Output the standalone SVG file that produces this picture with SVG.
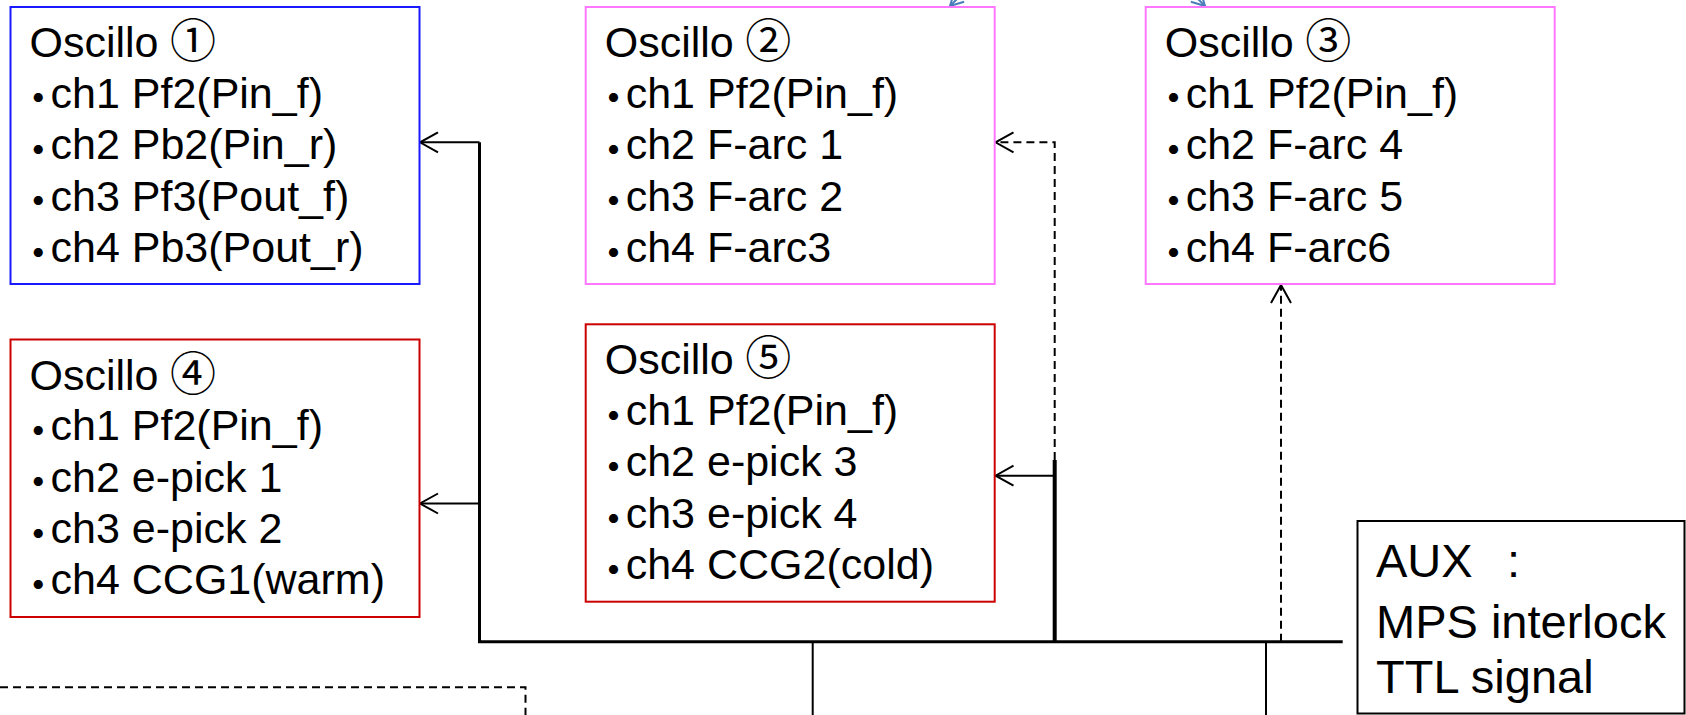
<svg xmlns="http://www.w3.org/2000/svg" width="1686" height="715" viewBox="0 0 1686 715">
<style>
  .t { font-family: "Liberation Sans", "Noto Sans CJK JP", sans-serif; font-size: 43px; fill: #000; }
  .n { font-size: 46px; }
  .aux { font-family: "Liberation Sans", "Noto Sans CJK JP", sans-serif; font-size: 47px; fill: #000; }
  .box { fill: #fff; stroke-width: 2; }
  .blue { stroke: #1a1aff; }
  .pink { stroke: #ff77ff; }
  .red { stroke: #cc0000; }
  .blk { stroke: #000; }
  .thick { stroke: #000; stroke-width: 3; fill: none; }
  .thin { stroke: #000; stroke-width: 2; fill: none; }
  .dash { stroke: #000; stroke-width: 2; fill: none; stroke-dasharray: 8 5; }
  .barrow { stroke: #4a7ebb; stroke-width: 2; fill: none; }
</style>
<defs>
  <marker id="open" viewBox="-20 -12 22 24" markerWidth="22" markerHeight="24" refX="0" refY="0" orient="auto" markerUnits="userSpaceOnUse">
    <path d="M-18,-10 L0,0 L-18,10" fill="none" stroke="#000" stroke-width="2"/>
  </marker>
  <marker id="openb" viewBox="-16 -10 18 20" markerWidth="18" markerHeight="20" refX="0" refY="0" orient="auto" markerUnits="userSpaceOnUse">
    <path d="M-13,-7 L0,0 L-13,7" fill="none" stroke="#4a7ebb" stroke-width="2"/>
  </marker>
</defs>

<g id="connectors">
  <path class="barrow" d="M968,-12 L950,6" marker-end="url(#openb)"/>
  <path class="barrow" d="M1187,-12 L1205,6" marker-end="url(#openb)"/>
  <path class="thick" d="M479.5,142.3 V641.7"/>
  <path class="thin" d="M479.5,142.3 H420" marker-end="url(#open)"/>
  <path class="thin" d="M479.5,503.5 H420" marker-end="url(#open)"/>
  <path class="thick" d="M478,641.7 H1342.7"/>
  <path d="M1054.7,460 V641.7" stroke="#000" stroke-width="4" fill="none"/>
  <path class="thin" d="M1054.7,475.7 H995.5" stroke="#333" marker-end="url(#open)"/>
  <path class="dash" d="M1054.7,460 V142.3 H995.5" marker-end="url(#open)"/>
  <path class="dash" d="M1281,641.7 V285" marker-end="url(#open)"/>
  <path class="thin" d="M812.7,641.7 V715"/>
  <path class="thin" d="M1266,641.7 V715"/>
  <path class="dash" d="M0,687.3 H525.5 V715" stroke-dasharray="8 6"/>
</g>

<g id="oscillo1">
  <rect class="box blue" x="10.5" y="7" width="409" height="277"/>
  <text class="t" x="29.5" y="57">Oscillo <tspan class="n" x="170">①</tspan></text>
  <text class="t" y="107.5"><tspan x="16.8" dy="6.8">・</tspan><tspan x="50.5" dy="-6.8">ch1 Pf2(Pin_f)</tspan></text>
  <text class="t" y="159"><tspan x="16.8" dy="6.8">・</tspan><tspan x="50.5" dy="-6.8">ch2 Pb2(Pin_r)</tspan></text>
  <text class="t" y="210.5"><tspan x="16.8" dy="6.8">・</tspan><tspan x="50.5" dy="-6.8">ch3 Pf3(Pout_f)</tspan></text>
  <text class="t" y="261.7"><tspan x="16.8" dy="6.8">・</tspan><tspan x="50.5" dy="-6.8">ch4 Pb3(Pout_r)</tspan></text>
</g>

<g id="oscillo2">
  <rect class="box pink" x="585.7" y="7" width="409" height="277"/>
  <text class="t" x="604.7" y="57">Oscillo <tspan class="n" x="745.2">②</tspan></text>
  <text class="t" y="107.5"><tspan x="592" dy="6.8">・</tspan><tspan x="625.7" dy="-6.8">ch1 Pf2(Pin_f)</tspan></text>
  <text class="t" y="159"><tspan x="592" dy="6.8">・</tspan><tspan x="625.7" dy="-6.8">ch2 F-arc 1</tspan></text>
  <text class="t" y="210.5"><tspan x="592" dy="6.8">・</tspan><tspan x="625.7" dy="-6.8">ch3 F-arc 2</tspan></text>
  <text class="t" y="261.7"><tspan x="592" dy="6.8">・</tspan><tspan x="625.7" dy="-6.8">ch4 F-arc3</tspan></text>
</g>

<g id="oscillo3">
  <rect class="box pink" x="1145.7" y="7" width="409" height="277"/>
  <text class="t" x="1164.7" y="57">Oscillo <tspan class="n" x="1305.2">③</tspan></text>
  <text class="t" y="107.5"><tspan x="1152" dy="6.8">・</tspan><tspan x="1185.7" dy="-6.8">ch1 Pf2(Pin_f)</tspan></text>
  <text class="t" y="159"><tspan x="1152" dy="6.8">・</tspan><tspan x="1185.7" dy="-6.8">ch2 F-arc 4</tspan></text>
  <text class="t" y="210.5"><tspan x="1152" dy="6.8">・</tspan><tspan x="1185.7" dy="-6.8">ch3 F-arc 5</tspan></text>
  <text class="t" y="261.7"><tspan x="1152" dy="6.8">・</tspan><tspan x="1185.7" dy="-6.8">ch4 F-arc6</tspan></text>
</g>

<g id="oscillo4">
  <rect class="box red" x="10.5" y="339.5" width="409" height="277.5"/>
  <text class="t" x="29.5" y="389.5">Oscillo <tspan class="n" x="170">④</tspan></text>
  <text class="t" y="440"><tspan x="16.8" dy="6.8">・</tspan><tspan x="50.5" dy="-6.8">ch1 Pf2(Pin_f)</tspan></text>
  <text class="t" y="491.5"><tspan x="16.8" dy="6.8">・</tspan><tspan x="50.5" dy="-6.8">ch2 e-pick 1</tspan></text>
  <text class="t" y="543"><tspan x="16.8" dy="6.8">・</tspan><tspan x="50.5" dy="-6.8">ch3 e-pick 2</tspan></text>
  <text class="t" y="594.2"><tspan x="16.8" dy="6.8">・</tspan><tspan x="50.5" dy="-6.8">ch4 CCG1(warm)</tspan></text>
</g>

<g id="oscillo5">
  <rect class="box red" x="585.7" y="324.3" width="409" height="277.4"/>
  <text class="t" x="604.7" y="374.3">Oscillo <tspan class="n" x="745.2">⑤</tspan></text>
  <text class="t" y="424.8"><tspan x="592" dy="6.8">・</tspan><tspan x="625.7" dy="-6.8">ch1 Pf2(Pin_f)</tspan></text>
  <text class="t" y="476.3"><tspan x="592" dy="6.8">・</tspan><tspan x="625.7" dy="-6.8">ch2 e-pick 3</tspan></text>
  <text class="t" y="527.8"><tspan x="592" dy="6.8">・</tspan><tspan x="625.7" dy="-6.8">ch3 e-pick 4</tspan></text>
  <text class="t" y="579"><tspan x="592" dy="6.8">・</tspan><tspan x="625.7" dy="-6.8">ch4 CCG2(cold)</tspan></text>
</g>

<g id="aux">
  <rect class="box blk" x="1357.5" y="521" width="327" height="192.5"/>
  <text class="aux" x="1376" y="577.3">AUX　<tspan x="1507">:</tspan></text>
  <text class="aux" x="1376" y="638.3">MPS interlock</text>
  <text class="aux" x="1376" y="692.7">TTL signal</text>
</g>
</svg>
